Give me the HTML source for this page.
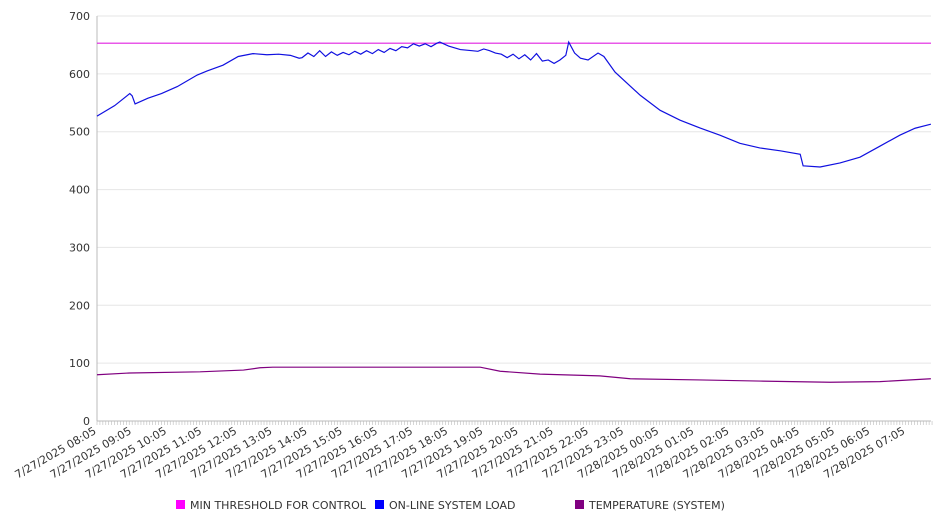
<!DOCTYPE html>
<html><head><meta charset="utf-8"><style>
body{margin:0;background:#fff;}
svg{display:block;font-family:"DejaVu Sans","Liberation Sans",sans-serif;}
</style></head><body>
<svg id="chart" width="946" height="526" viewBox="0 0 946 526"></svg>
<script>
const yTicks=[0,100,200,300,400,500,600,700];
const xLabels=["7/27/2025 08:05","7/27/2025 09:05","7/27/2025 10:05","7/27/2025 11:05","7/27/2025 12:05","7/27/2025 13:05","7/27/2025 14:05","7/27/2025 15:05","7/27/2025 16:05","7/27/2025 17:05","7/27/2025 18:05","7/27/2025 19:05","7/27/2025 20:05","7/27/2025 21:05","7/27/2025 22:05","7/27/2025 23:05","7/28/2025 00:05","7/28/2025 01:05","7/28/2025 02:05","7/28/2025 03:05","7/28/2025 04:05","7/28/2025 05:05","7/28/2025 06:05","7/28/2025 07:05"];
const threshold=653;
const loadMin=[0,30,56,60,65,87,110,137,171,188,215,241,266,290,310,330,345,350,360,370,380,390,400,410,420,430,440,450,460,470,480,490,500,510,520,530,540,550,560,570,580,585,600,620,640,650,660,670,680,690,700,710,720,730,740,750,760,770,780,790,800,805,815,825,838,855,865,884,927,961,995,1030,1063,1097,1131,1166,1200,1205,1234,1268,1302,1336,1370,1396,1423];
const loadVal=[527,545,566,562,548,558,566,578,598,605,615,630,635,633,634,632,627,628,636,630,640,630,638,632,637,633,639,634,640,635,642,637,644,640,647,645,652,648,652,647,653,655,648,642,640,639,643,640,636,634,628,634,626,633,624,635,622,624,618,624,632,655,636,627,624,636,630,603,563,537,520,506,494,480,472,467,461,441,439,446,456,475,494,506,513];
const tempMin=[0,56,176,250,278,300,654,688,756,858,910,1029,1131,1251,1336,1423];
const tempVal=[80,83,85,88,92,93,93,86,81,78,73,71,69,67,68,73];
const X0=97,X1=931,Y0=421,PX_MIN=2.93/5,PX_V=405/700;
const x=m=>X0+m*PX_MIN, y=v=>Y0-v*PX_V;
const svg=document.getElementById('chart');const NS='http://www.w3.org/2000/svg';
function mk(t,a,p){const e=document.createElementNS(NS,t);for(const k in a)e.setAttribute(k,a[k]);(p||svg).appendChild(e);return e;}
yTicks.forEach(v=>{
 const g=mk('line',{x1:X0,x2:X1,y1:y(v),y2:y(v),stroke:v===0?'#bbb':'#e6e6e6','stroke-width':1});
 
 
 const t=mk('text',{x:90,y:y(v)+4,'text-anchor':'end','font-size':11,fill:'#333'});t.textContent=v;
 
 
});
const ax=mk('line',{x1:X0,x2:X0,y1:y(700),y2:Y0,stroke:'#bbb'});


for(let m=0;m<=1425;m+=5){const tk=mk('line',{x1:x(m),x2:x(m),y1:Y0,y2:Y0+4,stroke:'#bbb','stroke-width':0.6});
 
 }
xLabels.forEach((l,i)=>{const px=x(i*60);
 const t=mk('text',{x:px,y:Y0+12,'text-anchor':'end','font-size':11,fill:'#333',transform:`rotate(-30 ${px} ${Y0+12})`});t.textContent=l;
 
 });
const th=mk('line',{x1:X0,x2:X1,y1:y(threshold),y2:y(threshold),stroke:'#e020e0','stroke-width':1.2});


const lp=mk('polyline',{points:loadMin.map((m,i)=>x(m)+','+y(loadVal[i])).join(' '),fill:'none',stroke:'#1010e0','stroke-width':1.2});


const tp=mk('polyline',{points:tempMin.map((m,i)=>x(m)+','+y(tempVal[i])).join(' '),fill:'none',stroke:'#800080','stroke-width':1.2});


[['MIN THRESHOLD FOR CONTROL','#ff00ff',176],['ON-LINE SYSTEM LOAD','#0000ff',375],['TEMPERATURE (SYSTEM)','#800080',575]].forEach(([n,c,lx])=>{
 const g=mk('g',{});
 
 
 mk('rect',{x:lx,y:500,width:9,height:9,fill:c},g);
 const t=mk('text',{x:lx+14,y:509,'font-size':11,fill:'#333'},g);t.textContent=n;
});
</script>
</body></html>
